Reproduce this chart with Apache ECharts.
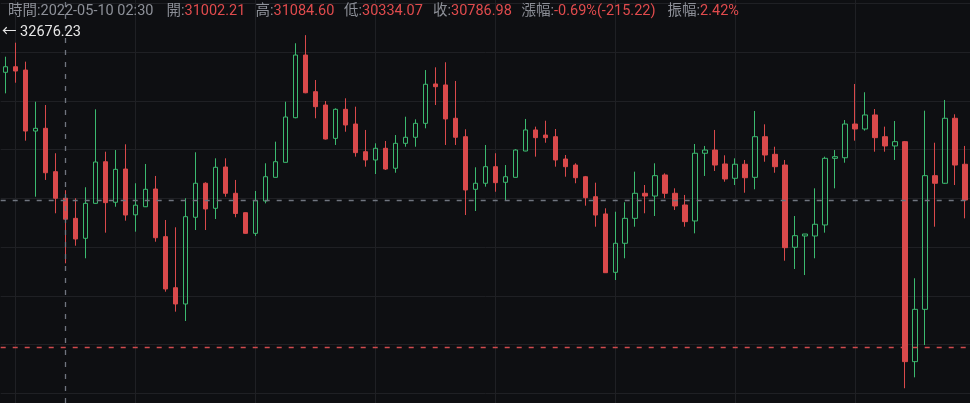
<!DOCTYPE html>
<html>
<head>
<meta charset="utf-8">
<script src="https://cdn.jsdelivr.net/npm/echarts@6/dist/echarts.min.js"></script>
<style>
html,body{margin:0;padding:0;background:#0e0f12;}
#chart{width:970px;height:403px;}
</style>
</head>
<body>
<div id="chart"></div>
<script>
// 30-minute bars, 2022-05-09 23:30 .. 2022-05-11 23:30
const categories = [
 '05-09 23:30',
 '05-10 00:00','05-10 00:30','05-10 01:00','05-10 01:30','05-10 02:00','05-10 02:30','05-10 03:00','05-10 03:30',
 '05-10 04:00','05-10 04:30','05-10 05:00','05-10 05:30','05-10 06:00','05-10 06:30','05-10 07:00','05-10 07:30',
 '05-10 08:00','05-10 08:30','05-10 09:00','05-10 09:30','05-10 10:00','05-10 10:30','05-10 11:00','05-10 11:30',
 '05-10 12:00','05-10 12:30','05-10 13:00','05-10 13:30','05-10 14:00','05-10 14:30','05-10 15:00','05-10 15:30',
 '05-10 16:00','05-10 16:30','05-10 17:00','05-10 17:30','05-10 18:00','05-10 18:30','05-10 19:00','05-10 19:30',
 '05-10 20:00','05-10 20:30','05-10 21:00','05-10 21:30','05-10 22:00','05-10 22:30','05-10 23:00','05-10 23:30',
 '05-11 00:00','05-11 00:30','05-11 01:00','05-11 01:30','05-11 02:00','05-11 02:30','05-11 03:00','05-11 03:30',
 '05-11 04:00','05-11 04:30','05-11 05:00','05-11 05:30','05-11 06:00','05-11 06:30','05-11 07:00','05-11 07:30',
 '05-11 08:00','05-11 08:30','05-11 09:00','05-11 09:30','05-11 10:00','05-11 10:30','05-11 11:00','05-11 11:30',
 '05-11 12:00','05-11 12:30','05-11 13:00','05-11 13:30','05-11 14:00','05-11 14:30','05-11 15:00','05-11 15:30',
 '05-11 16:00','05-11 16:30','05-11 17:00','05-11 17:30','05-11 18:00','05-11 18:30','05-11 19:00','05-11 19:30',
 '05-11 20:00','05-11 20:30','05-11 21:00','05-11 21:30','05-11 22:00','05-11 22:30','05-11 23:00','05-11 23:30'
];

const opens = [
 32295,32352,32318,31692,31720,31275,31002.21,30796,30591,30950,
 31377,30961,31302,30832,30915,31097,30608,30084,29917,30807,
 31156,30899,31323,31053,30854,30642,30974,31217,31371,31829,
 32472,32096,31959,31617,31915,31764,31480,31395,31515,31310,
 31566,31628,31771,32175,32165,31823,31634,31094,31156,31326,
 31166,31217,31487,31703,31651,31634,31405,31343,31223,31018,
 30841,30242,30540,30796,31053,31025,31241,31053,30933,30769,
 31464,31497,31354,31207,31351,31217,31634,31453,31343,30499,
 30615,30615,30728,31412,31418,31764,31713,31857,31634,31539,
 31583,29325,29862,31234,31156,31823,31351
];
const closes = [
 32352,32308,31692,31720,31264,31002,30786.98,30584,30950,31374,
 30957,31299,30830,30931,31094,30597,30071,29917,30813,31156,
 30892,31320,31053,30846,30642,30977,31223,31377,31836,32472,
 32085,31942,31610,31915,31754,31470,31395,31515,31302,31566,
 31628,31771,32172,32147,31816,31628,31087,31156,31326,31162,
 31223,31497,31703,31624,31624,31395,31326,31213,31008,30830,
 30238,30540,30796,31053,31025,31234,31053,30923,30762,31464,
 31497,31343,31200,31351,31213,31634,31446,31326,30495,30618,
 30635,30735,31412,31429,31764,31713,31857,31624,31539,31583,
 29325,29862,31234,31156,31823,31343,30984
];
const lows = [
 32079,32188,31593,31018,31190,30848,30334.07,30515,30386,30945,
 30649,30915,30772,30659,30912,30556,30043,29838,29742,30676,
 30676,30789,31018,30807,30638,30615,30950,31215,31369,31823,
 32080,31823,31605,31549,31685,31429,31326,31251,31292,31264,
 31531,31531,31720,31959,31549,31549,30830,30871,31121,31069,
 30984,31215,31485,31429,31572,31326,31223,31156,30926,30710,
 30235,30163,30386,30710,30848,30820,31002,30882,30710,30642,
 31231,31282,31172,31138,31059,31094,31377,31264,30361,30276,
 30214,30386,30649,31104,31367,31593,31696,31480,31480,31395,
 29052,29164,29496,30710,31150,31138,30796
];
const highs = [
 32455,32599,32404,31993,31959,31464,31084.60,31002,31115,31915,
 31480,31497,31556,31156,31354,31231,30779,30704,31002,31474,
 31166,31412,31412,31190,30856,31077,31361,31583,31993,32593,
 32676.23,32216,32000,31925,32028,31942,31703,31566,31590,31651,
 31839,31812,32318,32346,32398,32206,31710,31320,31549,31464,
 31343,31505,31816,31737,31798,31713,31446,31361,31231,31162,
 30899,30864,30961,31275,31138,31361,31258,31104,31036,31559,
 31539,31703,31443,31412,31395,31898,31761,31531,31395,30820,
 30635,31104,31429,31497,31805,32175,32090,31918,31737,31795,
 31590,30181,31901,31572,32011,31864,31539
];

const crosshairIndex = 6;
const alertPrice = 29473;
const priceMin = 28900.6;
const priceMax = 33037;
const headerLabels = ['時間:', '開:', '高:', '低:', '收:', '漲幅:', '振幅:'];
const headerValues = ['2022-05-10 02:30', '31002.21', '31084.60', '30334.07', '30786.98', '-0.69%(-215.22)', '2.42%'];

const candleData = categories.map((c, i) => [opens[i], closes[i], lows[i], highs[i]]);
const maxHigh = Math.max.apply(null, highs);
const lastClose = closes[closes.length - 1];

const FONT = "Roboto, 'Noto Sans CJK TC', sans-serif";
const UP = '#3bb96f';
const DOWN = '#d9494b';
const GRAY_DASH = '#70757f';
const RED_DASH = '#d04a4d';

const headerX = [8, 166.5, 255.5, 344, 433, 521.5, 667.5];
const graphics = headerLabels.map((lab, i) => ({
  type: 'text',
  left: headerX[i],
  top: 4,
  z: 100,
  silent: true,
  style: {
    text: '{l|' + lab + '}{' + (i === 0 ? 'l' : 'v') + '|' + headerValues[i] + '}',
    font: '14.5px ' + FONT,
    rich: {
      l: { fill: '#8d9098', fontSize: 14.5, fontFamily: FONT },
      v: { fill: '#e04b4d', fontSize: 14.5, fontFamily: FONT }
    }
  }
}));
graphics.push({
  type: 'text',
  left: 2,
  top: 25,
  z: 100,
  silent: true,
  style: {
    text: '← ' + maxHigh.toFixed(2),
    fill: '#e6e6e6',
    font: '14.5px ' + FONT
  }
});

function dashSeries(name, item, color) {
  return {
    name: name,
    type: 'line',
    data: [],
    silent: true,
    markLine: {
      silent: true,
      symbol: ['none', 'none'],
      animation: false,
      label: { show: false },
      lineStyle: { color: color, type: [5, 7], width: 1.3, opacity: 1 },
      emphasis: { disabled: true },
      data: [item]
    }
  };
}

const chart = echarts.init(document.getElementById('chart'), null, { renderer: 'canvas' });
chart.setOption({
  backgroundColor: '#0e0f12',
  animation: false,
  grid: { left: 0.7, width: 970, top: 0, height: 403, containLabel: false },
  xAxis: {
    type: 'category',
    data: categories,
    boundaryGap: true,
    axisLine: { show: false },
    axisTick: { show: false },
    axisLabel: { show: false },
    splitLine: {
      show: true,
      alignWithLabel: true,
      interval: function (index) { return index % 12 === 1; },
      lineStyle: { color: '#1f2024', width: 1 }
    }
  },
  yAxis: {
    type: 'value',
    min: priceMin,
    max: priceMax,
    splitNumber: 8,
    axisLine: { show: false },
    axisTick: { show: false },
    axisLabel: { show: false },
    splitLine: { show: true, showMinLine: false, showMaxLine: false, lineStyle: { color: '#1f2024', width: 1 } }
  },
  graphic: graphics,
  series: [
    {
      type: 'candlestick',
      data: candleData,
      barWidth: 5,
      itemStyle: {
        color: 'rgba(0,0,0,0)',
        color0: DOWN,
        borderColor: UP,
        borderColor0: DOWN,
        borderWidth: 1
      }
    },
    dashSeries('crossX', { xAxis: categories[crosshairIndex] }, GRAY_DASH),
    dashSeries('last', { yAxis: lastClose }, GRAY_DASH),
    dashSeries('alert', { yAxis: alertPrice }, RED_DASH)
  ]
});
</script>
</body>
</html>
